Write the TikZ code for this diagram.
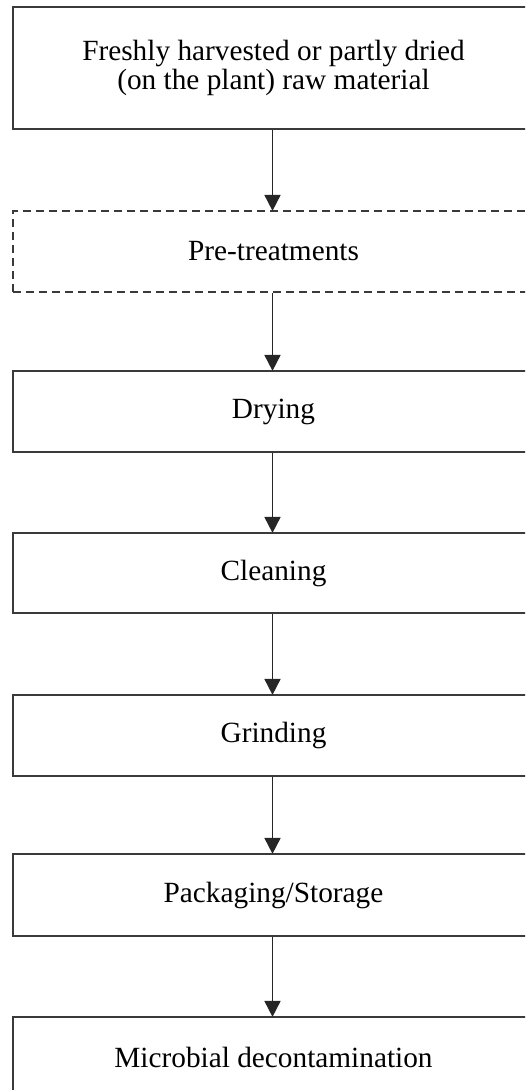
\documentclass[tikz,border=0pt]{standalone}
\usepackage{fontspec}
\setmainfont{Liberation Serif}
\usetikzlibrary{arrows.meta}
\definecolor{boxline}{HTML}{3A3A3A}
\begin{document}
\begin{tikzpicture}[x=1pt,y=-1pt,
  stepbox/.style={draw=boxline, line width=2.2pt, rectangle, inner sep=0pt,
    minimum width=521pt, align=center,
    font=\fontsize{29.3}{29}\selectfont},
  dashbox/.style={stepbox, dash pattern=on 8pt off 5pt},
  flow/.style={draw=black!85, line width=1.8pt,
    -{Triangle[length=16pt,width=16pt]}, shorten >=-1pt}]
\useasboundingbox (0,0) rectangle (525,1090);
\clip (0,0) rectangle (525,1090);
\node[stepbox, minimum height=122pt] (raw) at (273.5,68) {\raisebox{-3pt}{\parbox{500pt}{\centering Freshly harvested or partly dried\\(on the plant) raw material}}};
\node[dashbox, minimum height=81pt] (pre) at (273.5,251.5) {Pre-treatments};
\node[stepbox, minimum height=81pt] (dry) at (273.5,411.5) {Drying};
\node[stepbox, minimum height=80pt] (clean) at (273.5,573) {Cleaning};
\node[stepbox, minimum height=81pt] (grind) at (273.5,735.5) {Grinding};
\node[stepbox, minimum height=82pt] (pack) at (273.5,895) {Packaging/Storage};
\node[stepbox, minimum height=81pt] (micro) at (273.5,1057.5) {Microbial decontamination};
\draw[flow] (raw.south -| 272.5,0) -- (pre.north -| 272.5,0);
\draw[flow] (pre.south -| 272.5,0) -- (dry.north -| 272.5,0);
\draw[flow] (dry.south -| 272.5,0) -- (clean.north -| 272.5,0);
\draw[flow] (clean.south -| 272.5,0) -- (grind.north -| 272.5,0);
\draw[flow] (grind.south -| 272.5,0) -- (pack.north -| 272.5,0);
\draw[flow] (pack.south -| 272.5,0) -- (micro.north -| 272.5,0);
\end{tikzpicture}
\end{document}
